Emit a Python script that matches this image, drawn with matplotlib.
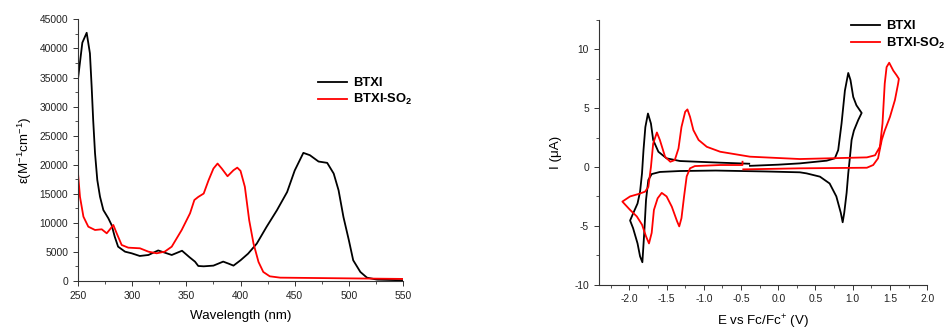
import matplotlib
matplotlib.use("Agg")
import matplotlib.pyplot as plt
from matplotlib.ticker import MultipleLocator

plt.rcParams['font.family'] = ['Liberation Sans', 'DejaVu Sans']
plt.rcParams['mathtext.fontset'] = 'custom'
plt.rcParams['mathtext.rm'] = 'Liberation Sans'
plt.rcParams['mathtext.it'] = 'Liberation Sans:italic'
plt.rcParams['mathtext.bf'] = 'Liberation Sans:bold'

# absorption spectra
wl_btxi = [250, 254, 258, 261, 262.6, 264, 265.7, 267.8, 270.3, 273.4, 278, 281, 283.9, 287,
           293.4, 299.5, 307, 315, 324, 336.5, 346, 353, 358, 361, 366, 375, 384, 389, 393.5,
           400, 407, 415, 424, 433.6, 443, 450, 458, 464, 472, 480, 486, 490.5, 495, 500, 504,
           510.6, 516.7, 526, 550]
eps_btxi = [34800, 41000, 42700, 39160, 33400, 27700, 22000, 17370, 14500, 12200, 10780, 9630,
            7620, 5900, 5040, 4760, 4300, 4470, 5250, 4470, 5200, 4070, 3320, 2580, 2520, 2640,
            3330, 2980, 2640, 3560, 4700, 6430, 9300, 12170, 15300, 19000, 22040, 21640, 20550,
            20320, 18480, 15600, 11000, 7000, 3560, 1550, 570, 230, 115]

wl_so2 = [250, 251.8, 255, 259.5, 265.7, 271.9, 276.5, 279.5, 282.6, 285.7, 290.3, 296.4, 307.2,
          315, 322.6, 330, 336.5, 345.7, 353.4, 357.4, 361, 366, 370.5, 375, 378.8, 382.7, 388,
          393.5, 397, 400, 404, 408, 412, 416.6, 421, 427, 436.6, 550]
eps_so2 = [18520, 14500, 11060, 9340, 8770, 8890, 8200, 8890, 9630, 8200, 6190, 5730, 5620, 5040,
           4760, 5040, 5900, 8770, 11640, 13930, 14460, 15040, 17330, 19340, 20200, 19340, 18020,
           19050, 19500, 18940, 16200, 10450, 6430, 3270, 1550, 800, 570, 350]

# cyclic voltammograms
e_btxi = [-0.38, 0.0, 0.29, 0.65, 0.76, 0.805, 0.85, 0.895, 0.94, 0.97, 1.007, 1.05, 1.12,
          1.074, 1.016, 0.985, 0.963, 0.94, 0.918, 0.886, 0.865, 0.84, 0.78, 0.69, 0.56, 0.38,
          0.29, -0.16, -0.84, -1.32, -1.59, -1.70, -1.745, -1.776, -1.80, -1.825, -1.856, -1.89,
          -1.95, -1.99,
          -1.946, -1.89, -1.856, -1.83, -1.81, -1.785, -1.75, -1.71, -1.68, -1.61, -1.50, -1.32,
          -0.78, -0.39]
i_btxi = [0.1, 0.2, 0.31, 0.54, 0.74, 1.44, 3.7, 6.5, 8.0, 7.4, 5.96, 5.25, 4.6,
          4.0, 3.1, 2.3, 0.87, -0.54, -2.2, -3.9, -4.7, -3.9, -2.5, -1.4, -0.82, -0.54,
          -0.45, -0.38, -0.3, -0.34, -0.42, -0.6, -1.1, -2.8, -5.6, -8.1, -7.6, -6.5,
          -5.2, -4.55,
          -3.9, -3.1, -2.1, -0.54, 1.44, 3.4, 4.55, 3.7, 2.3, 1.3, 0.74, 0.51,
          0.37, 0.28]

e_so2 = [-0.47, 0.29, 1.19, 1.275, 1.34, 1.39, 1.43, 1.50, 1.567, 1.61, 1.62,
         1.59, 1.545, 1.49, 1.455, 1.43, 1.40, 1.365, 1.30, 1.19, 0.29, -0.38, -0.78, -0.96,
         -1.07, -1.14, -1.185, -1.22, -1.25, -1.30, -1.34, -1.39, -1.45, -1.52, -1.59, -1.63,
         -1.68, -1.71, -1.745, -1.79, -1.88, -1.99, -2.094,
         -1.99, -1.90, -1.83, -1.776, -1.736, -1.70, -1.67, -1.62, -1.565, -1.50, -1.43, -1.36,
         -1.33, -1.30, -1.265, -1.23, -1.185, -1.12, -0.78, -0.48, -0.48]
i_so2 = [-0.2, -0.11, -0.06, 0.17, 0.74, 2.3, 3.1, 4.26, 5.7, 7.1, 7.5,
         7.8, 8.2, 8.87, 8.5, 7.1, 3.7, 1.72, 1.0, 0.82, 0.68, 0.88, 1.3, 1.72,
         2.3, 3.14, 4.27, 4.9, 4.7, 3.4, 1.58, 0.59, 0.45, 0.87, 2.3, 2.94,
         2.0, 0.0, -1.7, -2.1, -2.3, -2.5, -2.94,
         -3.65, -4.2, -4.9, -5.9, -6.5, -5.6, -3.65, -2.66, -2.2, -2.5, -3.37, -4.6,
         -5.05, -4.35, -2.5, -0.8, -0.11, 0.08, 0.17, 0.17, 0.45]

fig = plt.figure(figsize=(9.49, 3.29), dpi=100)
ax1 = fig.add_axes([0.0822, 0.146, 0.3425, 0.795])
ax2 = fig.add_axes([0.631, 0.135, 0.346, 0.804])

lw = 1.3
tick_fs = 7.4
label_fs = 9.6
leg_fs = 9.4

ax1.plot(wl_btxi, eps_btxi, color="black", lw=lw, label="BTXI")
ax1.plot(wl_so2, eps_so2, color="red", lw=lw, label="BTXI-SO$_\\mathbf{2}$")
ax1.set_xlim(250, 550)
ax1.set_ylim(0, 45000)
ax1.xaxis.set_major_locator(MultipleLocator(50))
ax1.xaxis.set_minor_locator(MultipleLocator(25))
ax1.yaxis.set_major_locator(MultipleLocator(5000))
ax1.yaxis.set_minor_locator(MultipleLocator(2500))
ax1.set_xlabel("Wavelength (nm)", fontsize=label_fs, labelpad=7)
ax1.set_ylabel("ε(M$^{-1}$cm$^{-1}$)", fontsize=label_fs, labelpad=4)
ax1.legend(loc="upper left", bbox_to_anchor=(0.737, 0.78), frameon=False,
           prop={'size': leg_fs, 'weight': 'bold'}, handlelength=2.25, handletextpad=0.45,
           labelspacing=0.25, borderpad=0, borderaxespad=0)

ax2.plot(e_btxi, i_btxi, color="black", lw=lw, label="BTXI")
ax2.plot(e_so2, i_so2, color="red", lw=lw, label="BTXI-SO$_\\mathbf{2}$")
ax2.set_xlim(-2.41, 2.0)
ax2.set_ylim(-10, 12.5)
ax2.xaxis.set_minor_locator(MultipleLocator(0.25))
ax2.yaxis.set_minor_locator(MultipleLocator(2.5))
ax2.set_xticks([-2.0, -1.5, -1.0, -0.5, 0.0, 0.5, 1.0, 1.5, 2.0])
ax2.set_xticklabels(["-2.0", "-1.5", "-1.0", "-0.5", "0.0", "0.5", "1.0", "1.5", "2.0"])
ax2.set_yticks([-10, -5, 0, 5, 10])
ax2.set_yticklabels(["-10", "-5", "0", "5", "10"])
ax2.set_xlabel("E vs Fc/Fc$^{+}$ (V)", fontsize=label_fs, labelpad=6)
ax2.set_ylabel("I (μA)", fontsize=label_fs, labelpad=9)
ax2.legend(loc="upper left", bbox_to_anchor=(0.768, 1.0), frameon=False,
           prop={'size': leg_fs, 'weight': 'bold'}, handlelength=2.25, handletextpad=0.45,
           labelspacing=0.25, borderpad=0, borderaxespad=0)

for ax in (ax1, ax2):
    for side in ("top", "right"):
        ax.spines[side].set_visible(False)
    for side in ("left", "bottom"):
        ax.spines[side].set_linewidth(0.8)
        ax.spines[side].set_color("#333333")
    ax.tick_params(which="major", direction="out", length=3.5, width=0.7, labelsize=tick_fs,
                   colors="#333333", labelcolor="#222222")
    ax.tick_params(which="minor", direction="out", length=2, width=0.6, colors="#333333")

plt.savefig("out.png", dpi=100)
plt.close()
